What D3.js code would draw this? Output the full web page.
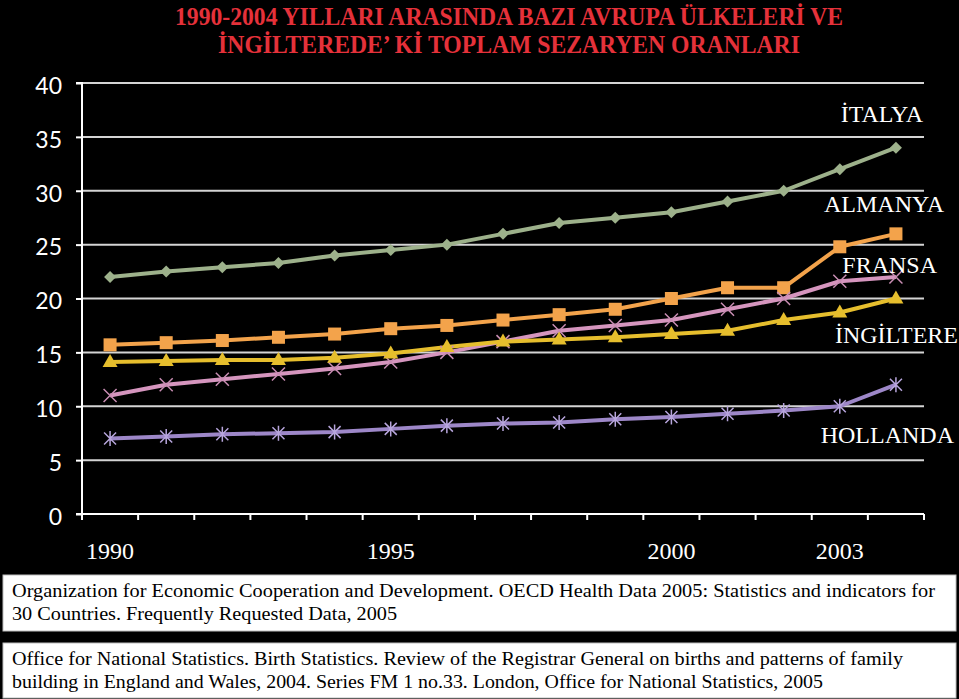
<!DOCTYPE html>
<html>
<head>
<meta charset="utf-8">
<script src="https://cdn.jsdelivr.net/npm/d3@7"></script>
<style>
  html, body { margin: 0; padding: 0; background: #000; }
  svg { display: block; }
</style>
</head>
<body>
<svg id="chart" width="959" height="699"></svg>
<script>
// ---------------- DATA ----------------
const years = [1990,1991,1992,1993,1994,1995,1996,1997,1998,1999,2000,2001,2002,2003,2004];
const tickYears = [1990, 1995, 2000, 2003];
const yTicks = [0, 5, 10, 15, 20, 25, 30, 35, 40];

const italya    = [22.0, 22.5, 22.9, 23.3, 24.0, 24.5, 25.0, 26.0, 27.0, 27.5, 28.0, 29.0, 30.0, 32.0, 34.0];
const almanya   = [15.7, 15.9, 16.1, 16.4, 16.7, 17.2, 17.5, 18.0, 18.5, 19.0, 20.0, 21.0, 21.0, 24.8, 26.0];
const fransa    = [11.0, 12.0, 12.5, 13.0, 13.5, 14.1, 15.0, 16.0, 17.0, 17.5, 18.0, 19.0, 20.0, 21.6, 22.0];
const ingiltere = [14.1, 14.2, 14.3, 14.3, 14.5, 14.9, 15.5, 16.0, 16.2, 16.4, 16.7, 17.0, 18.0, 18.7, 20.0];
const hollanda  = [7.0, 7.2, 7.4, 7.5, 7.6, 7.9, 8.2, 8.4, 8.5, 8.8, 9.0, 9.3, 9.6, 10.0, 12.0];

const titleLines = [
  "1990-2004 YILLARI ARASINDA BAZI AVRUPA ÜLKELERİ VE",
  "İNGİLTEREDE\u2019 Kİ TOPLAM SEZARYEN ORANLARI"
];
const sourceBoxes = [
  ["Organization for Economic Cooperation and Development. OECD Health Data 2005: Statistics and indicators for",
   "30 Countries. Frequently Requested Data, 2005"],
  ["Office for National Statistics. Birth Statistics. Review of the Registrar General on births and patterns of family",
   "building in England and Wales, 2004. Series FM 1 no.33. London, Office for National Statistics, 2005"]
];

// ---------------- SERIES STYLE ----------------
const series = [
  {name: "İTALYA",    values: italya,    color: "#9db18b", mcolor: "#9db18b", marker: "diamond",  lx: 923, ly: 122},
  {name: "ALMANYA",   values: almanya,   color: "#f3a34b", mcolor: "#f3a34b", marker: "square",   lx: 944, ly: 212},
  {name: "FRANSA",    values: fransa,    color: "#d595be", mcolor: "#c98db3", marker: "x",        lx: 937, ly: 273},
  {name: "İNGİLTERE", values: ingiltere, color: "#e6be2d", mcolor: "#e6be2d", marker: "triangle", lx: 958, ly: 343},
  {name: "HOLLANDA",  values: hollanda,  color: "#9d87c8", mcolor: "#b7a5dc", marker: "asterisk", lx: 954, ly: 443}
];

// ---------------- LAYOUT ----------------
const svg = d3.select("#chart");
const plot = {left: 82, right: 924, top: 83, bottom: 514};

const x = d3.scaleBand().domain(years).range([plot.left, plot.right]).padding(0);
const y = d3.scaleLinear().domain([0, 40]).range([plot.bottom, plot.top]);
const cx = d => x(d) + x.bandwidth() / 2;

svg.append("rect").attr("width", 959).attr("height", 699).attr("fill", "#000");

// Title
const titleG = svg.append("g");
const tfont = 25;
const t1 = titleG.append("text")
  .attr("x", 509).attr("y", 25)
  .attr("text-anchor", "middle")
  .attr("font-family", "Liberation Serif, serif")
  .attr("font-weight", "bold")
  .attr("font-size", tfont)
  .attr("fill", "#e5313a")
  .text(titleLines[0]);
const t2 = titleG.append("text")
  .attr("x", 509).attr("y", 53)
  .attr("text-anchor", "middle")
  .attr("font-family", "Liberation Serif, serif")
  .attr("font-weight", "bold")
  .attr("font-size", tfont)
  .attr("fill", "#e5313a")
  .text(titleLines[1]);
const w1 = t1.node().getComputedTextLength();
const w2 = t2.node().getComputedTextLength();
const tScale = 668 / w1;
t1.attr("textLength", 668).attr("lengthAdjust", "spacingAndGlyphs");
t2.attr("textLength", w2 * tScale).attr("lengthAdjust", "spacingAndGlyphs");

// Gridlines
svg.append("g").selectAll("line")
  .data(yTicks.filter(v => v > 0))
  .join("line")
  .attr("x1", plot.left).attr("x2", plot.right)
  .attr("y1", d => y(d)).attr("y2", d => y(d))
  .attr("stroke", "#d4d4d4").attr("stroke-width", 2);

// Y axis
const yAxis = d3.axisLeft(y).tickValues(yTicks).tickSize(6).tickPadding(14).tickFormat(d3.format("d"));
const yg = svg.append("g").attr("transform", `translate(${plot.left},0)`).call(yAxis);
yg.select(".domain").attr("stroke", "#fff").attr("stroke-width", 2).attr("d", `M-6,${plot.top}H0V${plot.bottom}H-6`);
yg.selectAll(".tick line").attr("stroke", "#fff").attr("stroke-width", 2);
yg.selectAll(".tick text")
  .attr("fill", "#fff")
  .attr("font-family", "Lato, 'Open Sans', sans-serif")
  .attr("font-size", 23)
  .attr("dy", "0.45em");

// X axis (tick marks at category boundaries)
const xg = svg.append("g");
xg.append("line")
  .attr("x1", plot.left - 6).attr("x2", plot.right)
  .attr("y1", plot.bottom).attr("y2", plot.bottom)
  .attr("stroke", "#fff").attr("stroke-width", 2);
const boundaries = years.map(d => x(d)).concat([plot.right]);
xg.selectAll("line.b").data(boundaries).join("line")
  .attr("class", "b")
  .attr("x1", d => d).attr("x2", d => d)
  .attr("y1", plot.bottom).attr("y2", plot.bottom + 6)
  .attr("stroke", "#fff").attr("stroke-width", 2);
xg.selectAll("text").data(tickYears).join("text")
  .attr("x", d => cx(d)).attr("y", 559)
  .attr("text-anchor", "middle")
  .attr("fill", "#fff")
  .attr("font-family", "Liberation Serif, serif")
  .attr("font-size", 24)
  .text(d => d);

// Lines
const line = d3.line().x((d, i) => cx(years[i])).y(d => y(d));
const sg = svg.append("g");
series.forEach(s => {
  sg.append("path")
    .attr("d", line(s.values))
    .attr("fill", "none")
    .attr("stroke", s.color)
    .attr("stroke-width", 4)
    .attr("stroke-linejoin", "round");
});

// Markers
function drawMarker(g, type, color) {
  if (type === "diamond") {
    g.append("path").attr("d", "M0,-6L6,0L0,6L-6,0Z").attr("fill", color);
  } else if (type === "square") {
    g.append("rect").attr("x", -6.5).attr("y", -6.5).attr("width", 13).attr("height", 13).attr("fill", color);
  } else if (type === "triangle") {
    g.append("path").attr("d", "M0,-8L7.5,5L-7.5,5Z").attr("fill", color);
  } else if (type === "x") {
    g.append("path").attr("d", "M-6.5,-6.5L6.5,6.5M-6.5,6.5L6.5,-6.5").attr("stroke", color).attr("stroke-width", 1.5);
  } else if (type === "asterisk") {
    g.append("path").attr("d", "M-6,-6L6,6M-6,6L6,-6M0,-7.5V7.5").attr("stroke", color).attr("stroke-width", 1.5);
  }
}
series.forEach(s => {
  const mg = svg.append("g");
  s.values.forEach((v, i) => {
    const g = mg.append("g").attr("transform", `translate(${cx(years[i])},${y(v)})`);
    drawMarker(g, s.marker, s.mcolor);
  });
});

// Series labels
svg.append("g").selectAll("text").data(series).join("text")
  .attr("x", d => d.lx).attr("y", d => d.ly)
  .attr("text-anchor", "end")
  .attr("fill", "#fff")
  .attr("font-family", "Liberation Serif, serif")
  .attr("font-size", 24)
  .text(d => d.name);

// Source boxes
const boxTops = [575, 643];
const lineEnds = [[935, 397], [903, 823]];
sourceBoxes.forEach((lines, bi) => {
  const top = boxTops[bi];
  svg.append("rect")
    .attr("x", 3).attr("y", top).attr("width", 953).attr("height", bi === 0 ? 56 : 55)
    .attr("fill", "#fff").attr("stroke", "#bdbdbd").attr("stroke-width", 1);
  lines.forEach((txt, li) => {
    svg.append("text")
      .attr("x", 12).attr("y", top + 22 + li * 23)
      .attr("fill", "#000")
      .attr("font-family", "Liberation Serif, serif")
      .attr("font-size", 19)
      .attr("textLength", lineEnds[bi][li] - 12)
      .attr("lengthAdjust", "spacingAndGlyphs")
      .text(txt);
  });
});
</script>
</body>
</html>
